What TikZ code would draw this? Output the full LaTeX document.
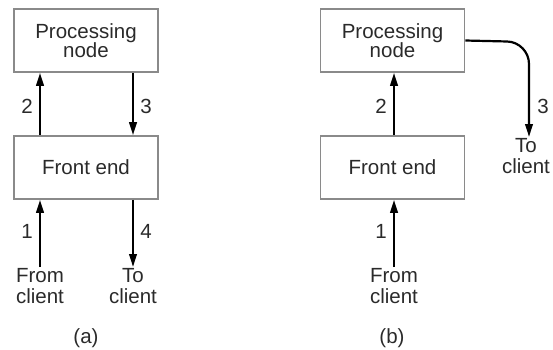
\documentclass[tikz,border=0pt]{standalone}
\usepackage{fontspec}
\setmainfont{Liberation Sans}
\usetikzlibrary{arrows.meta}
\definecolor{BoxGray}{HTML}{8A8A8A}
\definecolor{TextGray}{HTML}{2A2A2A}
\tikzset{
    box/.style={draw=BoxGray, line width=1.6pt, minimum width=144pt, minimum height=63pt,
        align=center, text=TextGray, font=\fontsize{20.5}{22}\selectfont, inner sep=0pt},
    lbl/.style={text=TextGray, font=\fontsize{20.5}{23}\selectfont, align=center, inner sep=1pt},
    flow/.style={line width=2.2pt, -{Triangle[length=13pt, width=7.5pt]}}
}
\NewDocumentCommand{\Setup}{m m m}{
\begin{scope}[shift={(#1,0)}, name prefix=#2-]
    \node[box] (proc) at (0,-40.5) {Processing\\[-3pt]node};
    \node[box] (front) at (0,-167.5) {Front end};
    \node[lbl, anchor=north] (from) at (#3,-267) {From\\[-2pt]client};
\end{scope}
}
\begin{document}
\begin{tikzpicture}[x=1pt, y=1pt]
\useasboundingbox (0,0) rectangle (553,-349);
\Setup{86}{A}{-46}
\Setup{392.5}{B}{1.5}

% (a)
\node[lbl, anchor=north] (A-to) at (133,-267) {To\\[-2pt]client};
\draw[flow] (A-from.north) -- (A-from.north |- A-front.south);
\draw[flow] (A-from.north |- A-front.north) -- (A-from.north |- A-proc.south);
\draw[flow] (A-to.north |- A-proc.south) -- (A-to.north |- A-front.north);
\draw[flow] (A-to.north |- A-front.south) -- (A-to.north);
\node[lbl] (A-one) at (27,-231) {1};
\node[lbl] (A-two) at (27,-106) {2};
\node[lbl] (A-three) at (146,-106) {3};
\node[lbl] (A-four) at (146,-231) {4};
\node[lbl] (A-cap) at (86,-338) {(a)};

% (b)
\node[lbl, anchor=north] (B-to) at (526,-137) {To\\[-2pt]client};
\coordinate (B-turn) at (529,-42);
\draw[flow] (B-from.north) -- (B-from.north |- B-front.south);
\draw[flow] (B-from.north |- B-front.north) -- (B-from.north |- B-proc.south);
\draw[flow, rounded corners=22pt] (B-proc.east) -- (B-turn) -- (B-turn |- B-to.north);
\node[lbl] (B-one) at (381,-231) {1};
\node[lbl] (B-two) at (381,-106) {2};
\node[lbl] (B-three) at (543,-106) {3};
\node[lbl] (B-cap) at (392,-338) {(b)};
\end{tikzpicture}
\end{document}
